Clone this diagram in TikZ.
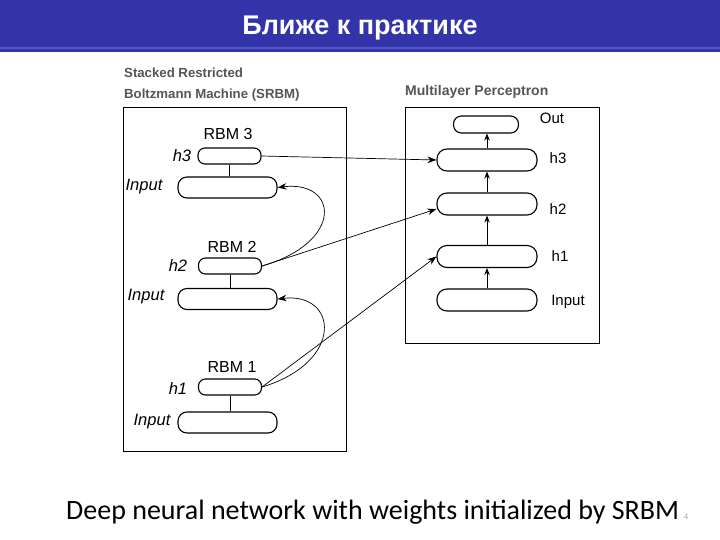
\documentclass[tikz,border=0pt]{standalone}
\usepackage{fontspec}
\setmainfont{Liberation Sans}
\newfontfamily\capfont{Carlito}
\usetikzlibrary{arrows.meta}
\definecolor{barblue}{RGB}{51,51,170}
\definecolor{barstripe}{RGB}{85,85,200}
\definecolor{headgray}{RGB}{85,85,85}
\tikzset{
  hbox/.style={draw, line width=1.1pt, rounded corners=7pt, minimum width=63pt, minimum height=16pt, inner sep=0pt},
  ibox/.style={draw, line width=1.1pt, rounded corners=9pt, minimum width=99pt, minimum height=21pt, inner sep=0pt},
  mbox/.style={draw, line width=1.1pt, rounded corners=10pt, minimum width=100pt, minimum height=22pt, inner sep=0pt},
  obox/.style={draw, line width=1.1pt, rounded corners=8pt, minimum width=65pt, minimum height=17pt, inner sep=0pt},
  lbl/.style={font=\fontsize{16}{18}\selectfont, inner sep=0pt},
  rlbl/.style={font=\fontsize{15}{17}\selectfont, inner sep=0pt},
  ilbl/.style={font=\fontsize{16.5}{19}\selectfont\itshape, inner sep=0pt},
  head/.style={font=\fontsize{13.2}{15}\selectfont\bfseries, text=headgray, inner sep=0pt, anchor=west},
  frame/.style={draw, line width=0.8pt},
  conn/.style={line width=0.7pt, -{Stealth[length=9pt,width=6.5pt]}},
  up/.style={line width=0.9pt, -{Stealth[length=7pt,width=5.5pt]}}
}
\begin{document}
\begin{tikzpicture}[x=1pt,y=-1pt]
\useasboundingbox (0,0) rectangle (720,540);
\fill[white] (0,0) rectangle (720,540);
% title bar
\fill[barblue] (0,0) rectangle (720,52);
\fill[barstripe] (0,47) rectangle (720,49);
\node[text=white, font=\fontsize{27}{30}\selectfont\bfseries, inner sep=0pt] (title) at (360,28) {Ближе к практике};
% headings
\node[head] (hL1) at (124,73) {Stacked Restricted};
\node[head] (hL2) at (124,95) {Boltzmann Machine (SRBM)};
\node[head, font=\fontsize{14}{16}\selectfont\bfseries] (hR) at (405,92) {Multilayer Perceptron};
% frames
\draw[frame] (123,107) rectangle (346,451);
\draw[frame] (405,107) rectangle (599,343);
% left stack
\node[lbl] (rbm3) at (228,134) {RBM 3};
\node[hbox] (h3L) at (229.5,156) {};
\node[ibox] (in3) at (227.5,187.5) {};
\node[ilbl] (th3) at (182,156) {h3};
\node[ilbl] (ti3) at (144,187) {Input};
\draw[line width=0.8pt] (h3L.south) -- (h3L.south |- in3.north);

\node[lbl] (rbm2) at (232,247) {RBM 2};
\node[hbox] (h2L) at (230,266) {};
\node[ibox] (in2) at (227.5,299) {};
\node[ilbl] (th2) at (178,266) {h2};
\node[ilbl] (ti2) at (146,297) {Input};
\draw[line width=0.8pt] (h2L.south) -- (h2L.south |- in2.north);

\node[lbl] (rbm1) at (232,367) {RBM 1};
\node[hbox] (h1L) at (230,387) {};
\node[ibox] (in1) at (227.5,422.5) {};
\node[ilbl] (th1) at (178,389) {h1};
\node[ilbl] (ti1) at (152,422) {Input};
\draw[line width=0.8pt] (h1L.south) -- (h1L.south |- in1.north);

% right stack
\node[obox] (outR) at (486,124.5) {};
\node[mbox] (h3R) at (487,160) {};
\node[mbox] (h2R) at (487,204) {};
\node[mbox] (h1R) at (487,256.5) {};
\node[mbox] (inR) at (487,300) {};
\node[rlbl] (tout) at (552,118) {Out};
\node[rlbl] (trh3) at (558,158) {h3};
\node[rlbl] (trh2) at (558,209) {h2};
\node[rlbl] (trh1) at (560,256) {h1};
\node[rlbl] (trin) at (568,302) {Input};
\draw[up] (inR.north) -- (h1R.south);
\draw[up] (h1R.north) -- (h2R.south);
\draw[up] (h2R.north) -- (h3R.south);
\draw[up] (h3R.north) -- (h3R.north |- outR.south);

% connectors
\draw[conn] (h3L.east) -- (h3R.west);
\draw[conn] (h2L.east) -- ([yshift=-5pt]h2R.west);
\draw[conn] (h1L.east) -- (h1R.west);
\draw[conn] (h2L.east) .. controls (345,242) and (338,180) .. (in3.east);
\draw[conn] (h1L.east) .. controls (345,362) and (338,292) .. (in2.east);

% caption
\node[font=\capfont\fontsize{28}{32}\selectfont, inner sep=0pt, anchor=west] (cap) at (66,512) {Deep neural network with weights initialized by SRBM};
\node[font=\fontsize{8}{9}\selectfont, text=gray!70, inner sep=0pt] (num) at (686,517) {4};
\end{tikzpicture}
\end{document}
